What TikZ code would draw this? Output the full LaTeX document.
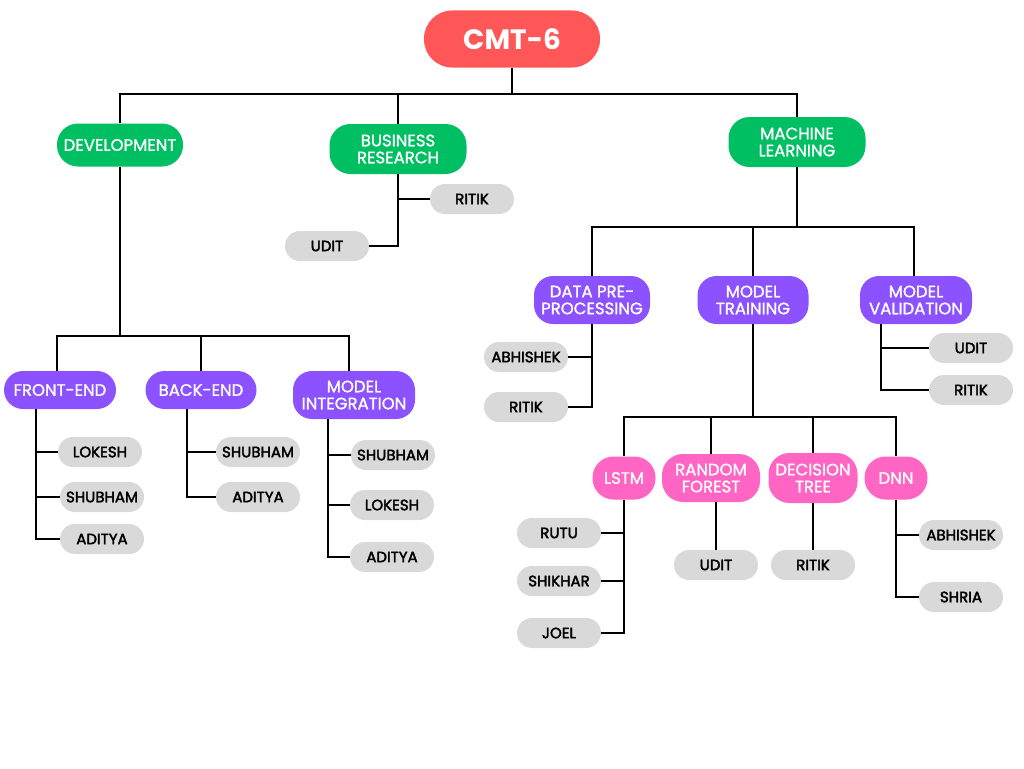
\documentclass[tikz,border=0pt]{standalone}
\usepackage{fontspec}
\setmainfont{Poppins}
\newfontfamily\popsemi{Poppins}[FakeBold=1.3]
\newfontfamily\popgray{Poppins}[FakeBold=2.4]
\definecolor{cred}{HTML}{FF5757}
\definecolor{cgreen}{HTML}{00BF63}
\definecolor{cpurple}{HTML}{8C52FF}
\definecolor{cpink}{HTML}{FF66C4}
\definecolor{cgray}{HTML}{D9D9D9}
\begin{document}
\begin{tikzpicture}[x=1pt,y=-1pt,
  box/.style={rectangle, inner sep=0pt, align=center},
  rootbox/.style={box, fill=cred, text=white, rounded corners=28pt, font=\fontsize{28}{30}\selectfont\bfseries},
  greenbox/.style={box, fill=cgreen, text=white, rounded corners=21pt, font=\popsemi\fontsize{16.5}{17}\selectfont},
  purplebox/.style={box, fill=cpurple, text=white, rounded corners=19pt, font=\popsemi\fontsize{16.5}{17}\selectfont},
  pinkbox/.style={box, fill=cpink, text=white, rounded corners=21pt, font=\popsemi\fontsize{16.5}{17}\selectfont},
  graybox/.style={box, fill=cgray, text=black, rounded corners=15pt, minimum width=84pt, minimum height=30pt, font=\popgray\fontsize{15}{15}\selectfont},
  conn/.style={line width=1.8pt, black}]
\path[fill=white] (0,0) rectangle (1024,768);
\useasboundingbox (0,0) rectangle (1024,768);

% root and level 1
\node[rootbox, minimum width=176pt, minimum height=57pt] (cmt) at (512,39) {CMT-6};
\node[greenbox, minimum width=126pt, minimum height=43pt] (dev) at (120,145) {DEVELOPMENT};
\node[greenbox, minimum width=137pt, minimum height=50pt] (br) at (398,149) {BUSINESS\\RESEARCH};
\node[greenbox, minimum width=137pt, minimum height=50pt] (ml) at (797,142) {MACHINE\\LEARNING};

% business research
\node[graybox] (brr) at (472,199) {RITIK};
\node[graybox] (bru) at (327,246) {UDIT};

% development
\node[purplebox, minimum width=112pt, minimum height=38pt] (fe) at (60,390) {FRONT-END};
\node[purplebox, minimum width=111pt, minimum height=38pt] (be) at (201,390) {BACK-END};
\node[purplebox, minimum width=122pt, minimum height=48pt] (mi) at (354,395) {MODEL\\INTEGRATION};
\node[graybox] (fe1) at (100,452) {LOKESH};
\node[graybox] (fe2) at (102,497) {SHUBHAM};
\node[graybox] (fe3) at (102,539) {ADITYA};
\node[graybox] (be1) at (258,452) {SHUBHAM};
\node[graybox] (be2) at (258,497) {ADITYA};
\node[graybox] (mi1) at (393,455) {SHUBHAM};
\node[graybox] (mi2) at (392,505) {LOKESH};
\node[graybox] (mi3) at (392,557) {ADITYA};

% machine learning
\node[purplebox, minimum width=116pt, minimum height=48pt] (dp) at (592,300) {DATA PRE-\\PROCESSING};
\node[purplebox, minimum width=111pt, minimum height=48pt] (mt) at (753,300) {MODEL\\TRAINING};
\node[purplebox, minimum width=112pt, minimum height=48pt] (mv) at (916,300) {MODEL\\VALIDATION};
\node[graybox] (dp1) at (526,357) {ABHISHEK};
\node[graybox] (dp2) at (526,407) {RITIK};
\node[graybox] (mv1) at (971,348) {UDIT};
\node[graybox] (mv2) at (971,390) {RITIK};

% model training
\node[pinkbox, minimum width=63pt, minimum height=43pt] (lstm) at (624,478) {LSTM};
\node[pinkbox, minimum width=98pt, minimum height=48pt] (rf) at (711,478) {RANDOM\\FOREST};
\node[pinkbox, minimum width=89pt, minimum height=50pt] (dt) at (813,478) {DECISION\\TREE};
\node[pinkbox, minimum width=63pt, minimum height=43pt] (dnn) at (896,478) {DNN};
\node[graybox] (l1) at (559,533) {RUTU};
\node[graybox] (l2) at (559,581) {SHIKHAR};
\node[graybox] (l3) at (559,633) {JOEL};
\node[graybox] (rf1) at (716,565) {UDIT};
\node[graybox] (dt1) at (813,565) {RITIK};
\node[graybox] (dn1) at (961,535) {ABHISHEK};
\node[graybox] (dn2) at (961,597) {SHRIA};

% connectors: top
\coordinate (b0) at (512,94);
\draw[conn] (cmt.south) -- (b0);
\draw[conn] (dev.north) |- (b0) -| (ml.north);
\draw[conn] (br.north) -- (br.north |- b0);

% business research
\draw[conn] (br.south) |- (bru.east);
\draw[conn] (brr.west) -- (brr.west -| br.south);

% development
\coordinate (b1) at (120,336);
\coordinate (fetop) at ([xshift=-3pt]fe.north);
\coordinate (mitop) at ([xshift=-5pt]mi.north);
\draw[conn] (dev.south) -- (b1);
\draw[conn] (fetop) |- (b1) -| (mitop);
\draw[conn] (be.north) -- (be.north |- b1);

\coordinate (fet) at ([xshift=-24pt]fe.south);
\draw[conn] (fet) |- (fe3.west);
\draw[conn] (fe1.west) -- (fe1.west -| fet);
\draw[conn] (fe2.west) -- (fe2.west -| fet);

\coordinate (bet) at ([xshift=-14pt]be.south);
\draw[conn] (bet) |- (be2.west);
\draw[conn] (be1.west) -- (be1.west -| bet);

\coordinate (mit) at ([xshift=-26pt]mi.south);
\draw[conn] (mit) |- (mi3.west);
\draw[conn] (mi1.west) -- (mi1.west -| mit);
\draw[conn] (mi2.west) -- (mi2.west -| mit);

% machine learning
\coordinate (b2) at (797,227);
\draw[conn] (ml.south) -- (b2);
\draw[conn] (dp.north) |- (b2) -| ([xshift=-2pt]mv.north);
\draw[conn] (mt.north) -- (mt.north |- b2);

\draw[conn] (dp.south) |- (dp2.east);
\draw[conn] (dp1.east) -- (dp1.east -| dp.south);

\coordinate (mvt) at ([xshift=-35pt]mv.south);
\draw[conn] (mvt) |- (mv2.west);
\draw[conn] (mv1.west) -- (mv1.west -| mvt);

% model training
\coordinate (b3) at (753,417);
\draw[conn] (mt.south) -- (b3);
\draw[conn] (lstm.north) |- (b3) -| (dnn.north);
\draw[conn] (rf.north) -- (rf.north |- b3);
\draw[conn] (dt.north) -- (dt.north |- b3);

\draw[conn] (lstm.south) |- (l3.east);
\draw[conn] (l1.east) -- (l1.east -| lstm.south);
\draw[conn] (l2.east) -- (l2.east -| lstm.south);

\draw[conn] (rf1.north) -- (rf1.north |- rf.south);
\draw[conn] (dt1.north) -- (dt.south);

\draw[conn] (dnn.south) |- (dn2.west);
\draw[conn] (dn1.west) -- (dn1.west -| dnn.south);
\end{tikzpicture}
\end{document}
